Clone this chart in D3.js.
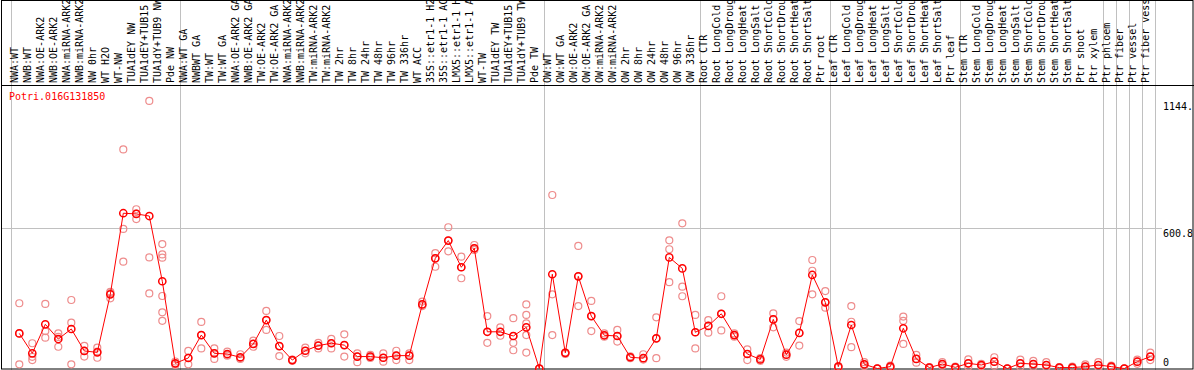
<!DOCTYPE html>
<html>
<head>
<meta charset="utf-8">
<script src="https://cdnjs.cloudflare.com/ajax/libs/d3/7.8.5/d3.min.js"></script>
<style>
  html, body { margin: 0; padding: 0; background: #fff; }
  text { font-family: "DejaVu Sans Mono", monospace; font-size: 10px; }
</style>
</head>
<body>
<script>
var geneName = 'Potri.016G131850'

var categories = [
  'NWA:WT', 'NWB:WT', 'NWA:OE-ARK2', 'NWB:OE-ARK2', 'NWA:miRNA-ARK2', 'NWB:miRNA-ARK2',
  'NW 0hr', 'WT H2O', 'WT-NW', 'TUA1dEY NW', 'TUA1dEY+TUB15 NW', 'TUA1dY+TUB9 NW', 'Pde NW',
  'NWA:WT GA', 'NWBWT GA', 'TW:WT', 'TW:WT GA', 'NWA:OE-ARK2 GA', 'NWB:OE-ARK2 GA',
  'TW:OE-ARK2', 'TW:OE-ARK2 GA', 'NWA:miRNA-ARK2', 'NWB:miRNA-ARK2', 'TW:miRNA-ARK2',
  'TW:miRNA-ARK2', 'TW 2hr', 'TW 8hr', 'TW 24hr', 'TW 48hr', 'TW 96hr', 'TW 336hr', 'WT ACC',
  '35S::etr1-1 H2O', '35S::etr1-1 ACC', 'LMX5::etr1-1 H2O', 'LMX5::etr1-1 ACC', 'WT-TW',
  'TUA1dEY TW', 'TUA1dEY+TUB15 TW', 'TUA1dY+TUB9 TW', 'Pde TW',
  'OW:WT', 'OW:WT GA', 'OW:OE-ARK2', 'OW:OE-ARK2 GA', 'OW:miRNA-ARK2', 'OW:miRNA-ARK2',
  'OW 2hr', 'OW 8hr', 'OW 24hr', 'OW 48hr', 'OW 96hr', 'OW 336hr',
  'Root CTR', 'Root LongCold', 'Root LongDrought', 'Root LongHeat', 'Root LongSalt',
  'Root ShortCold', 'Root ShortDrought', 'Root ShortHeat', 'Root ShortSalt', 'Ptr root',
  'Leaf CTR', 'Leaf LongCold', 'Leaf LongDrought', 'Leaf LongHeat', 'Leaf LongSalt',
  'Leaf ShortCold', 'Leaf ShortDrought', 'Leaf ShortHeat', 'Leaf ShortSalt', 'Ptr leaf',
  'Stem CTR', 'Stem LongCold', 'Stem LongDrought', 'Stem LongHeat', 'Stem LongSalt',
  'Stem ShortCold', 'Stem ShortDrought', 'Stem ShortHeat', 'Stem ShortSalt', 'Ptr shoot',
  'Ptr xylem', 'Ptr phloem', 'Ptr fiber', 'Ptr vessel', 'Ptr fiber vessel'
]

var means = [
  150, 65, 189, 126, 169, 75, 69, 317, 664, 661, 652, 373, 22,
  45, 143, 65, 62, 48, 105, 207, 96, 36, 76, 98, 108, 100, 51, 51, 46, 55, 55,
  274, 471, 547, 433, 514, 157, 157, 139, 176, 0,
  403, 67, 394, 224, 142, 139, 48, 44, 129, 475, 428, 155,
  182, 234, 143, 62, 39, 210, 59, 152, 400, 283,
  8, 186, 18, 0, 8, 172, 41, 4, 19, 5,
  22, 15, 29, 0, 22, 19, 15, 4, 4, 8, 15,
  8, 0, 29, 51
]

var replicates = [
  [279, 150, 18], [108, 50, 36], [276, 160, 132], [150, 135, 93], [293, 196, 18],
  [97, 75, 51], [89, 72, 46], [328, 322, 300], [937, 597, 457], [681, 662, 639],
  [1144, 475, 321], [532, 488, 474, 310, 240, 204], [30, 20, 15],
  [75, 46, 18], [199, 143, 86], [86, 65, 41], [72, 58, 55], [61, 45, 41],
  [119, 105, 93], [246, 207, 165], [139, 96, 53], [36, 33, 38], [89, 76, 65],
  [110, 98, 86], [127, 108, 86], [146, 100, 51], [65, 51, 27], [58, 51, 45],
  [65, 46, 29], [76, 55, 36], [65, 55, 36], [286, 274, 267], [493, 471, 435],
  [604, 547, 501], [478, 433, 386], [528, 514, 507], [224, 157, 110],
  [176, 157, 140], [215, 139, 110, 78], [274, 229, 193, 143, 68], [0, 0, 0],
  [742, 317, 143], [68, 66, 62], [524, 394, 267], [289, 224, 160], [150, 142, 136],
  [165, 139, 115], [52, 48, 44], [61, 44, 38], [219, 129, 44], [548, 510, 369],
  [621, 350, 309], [229, 155, 86],
  [207, 182, 153], [309, 234, 163], [150, 143, 136], [82, 62, 36], [45, 39, 33],
  [236, 210, 176], [68, 59, 50], [203, 152, 98], [464, 418, 317], [331, 283, 260],
  [10, 8, 5], [267, 200, 91], [27, 18, 10], [0, 0, 0], [12, 8, 4], [222, 204, 105],
  [58, 41, 25], [6, 4, 2], [27, 19, 12], [8, 5, 3],
  [39, 22, 8], [20, 15, 10], [48, 29, 12], [0, 0, 0], [38, 22, 8], [33, 19, 8],
  [27, 15, 5], [6, 4, 2], [8, 4, 0], [18, 8, 0], [27, 15, 5],
  [12, 8, 4], [0, 0, 0], [38, 29, 20], [68, 51, 36]
]

// index of the last column of each group (a gray rule is drawn after it)
var groupEnds = [-1, 12, 40, 52, 62, 72, 83, 84, 85, 86, 87]
var yTicks = [
  { v: 1144, label: '1144.', grid: false },
  { v: 600.8, label: '600.8', grid: true },
  { v: 0, label: '0', grid: false }
]

var W = 1194, H = 370
var headerBottom = 85.5, plotBottom = 368.5

var svg = d3.select('body').append('svg')
  .attr('width', W)
  .attr('height', H)

var x = d3.scaleLinear().domain([0, categories.length - 1]).range([19.3, 1150.3])
var y = d3.scaleLinear().domain([0, 600.8]).range([plotBottom, 228])

// gray vertical rules
svg.selectAll('line.sep')
  .data(groupEnds)
  .enter().append('line')
  .attr('class', 'sep')
  .attr('x1', function(d) { return Math.round(x(d) + 5) + 0.5 })
  .attr('x2', function(d) { return Math.round(x(d) + 5) + 0.5 })
  .attr('y1', 0)
  .attr('y2', H)
  .attr('stroke', '#c0c0c0')
  .attr('stroke-width', 1)

// horizontal grid
svg.selectAll('line.grid')
  .data(yTicks.filter(function(d) { return d.grid }))
  .enter().append('line')
  .attr('class', 'grid')
  .attr('x1', 1)
  .attr('x2', 1162)
  .attr('y1', function(d) { return Math.round(y(d.v)) + 0.5 })
  .attr('y2', function(d) { return Math.round(y(d.v)) + 0.5 })
  .attr('stroke', '#c0c0c0')

// frame
svg.append('rect')
  .attr('x', 1.5).attr('y', 0.5)
  .attr('width', W - 2.5).attr('height', H - 1.5)
  .attr('fill', 'none').attr('stroke', '#000')
svg.append('line')
  .attr('x1', 1).attr('x2', W)
  .attr('y1', headerBottom).attr('y2', headerBottom)
  .attr('stroke', '#000')

// column labels
svg.append('clipPath').attr('id', 'hdr')
  .append('rect').attr('x', 2).attr('y', 1).attr('width', W - 4).attr('height', headerBottom - 1)
svg.append('g').attr('clip-path', 'url(#hdr)')
  .selectAll('text')
  .data(categories)
  .enter().append('text')
  .attr('transform', function(d, i) { return 'translate(' + (x(i) - 1) + ',83) rotate(-90)' })
  .attr('fill', '#000')
  .text(function(d) { return d })

// y labels
svg.append('clipPath').attr('id', 'ylab')
  .append('rect').attr('x', 0).attr('y', 0).attr('width', W - 1.5).attr('height', H)
svg.append('g').attr('clip-path', 'url(#ylab)')
  .selectAll('text')
  .data(yTicks)
  .enter().append('text')
  .attr('x', 1163)
  .attr('y', function(d) { return Math.min(y(d.v) + 9, 365.5) })
  .attr('fill', '#000')
  .text(function(d) { return d.label })

// replicate circles
var reps = []
replicates.forEach(function(r, i) {
  r.forEach(function(v) { reps.push({ i: i, v: v }) })
})
svg.append('g').selectAll('circle')
  .data(reps)
  .enter().append('circle')
  .attr('cx', function(d) { return x(d.i) })
  .attr('cy', function(d) { return y(d.v) })
  .attr('r', 3.5)
  .attr('fill', 'none')
  .attr('stroke', '#ee8c8c')
  .attr('stroke-width', 1.2)

// mean line
var line = d3.line()
  .x(function(d, i) { return x(i) })
  .y(function(d) { return y(d) })
svg.append('path')
  .datum(means)
  .attr('d', line)
  .attr('fill', 'none')
  .attr('stroke', '#ff0000')
  .attr('stroke-width', 1)

svg.append('g').selectAll('circle')
  .data(means)
  .enter().append('circle')
  .attr('cx', function(d, i) { return x(i) })
  .attr('cy', function(d) { return y(d) })
  .attr('r', 3.6)
  .attr('fill', 'none')
  .attr('stroke', '#ff0000')
  .attr('stroke-width', 1.5)

svg.append('text')
  .attr('x', 9)
  .attr('y', 100)
  .attr('fill', '#ff0000')
  .text(geneName)
</script>
</body>
</html>
